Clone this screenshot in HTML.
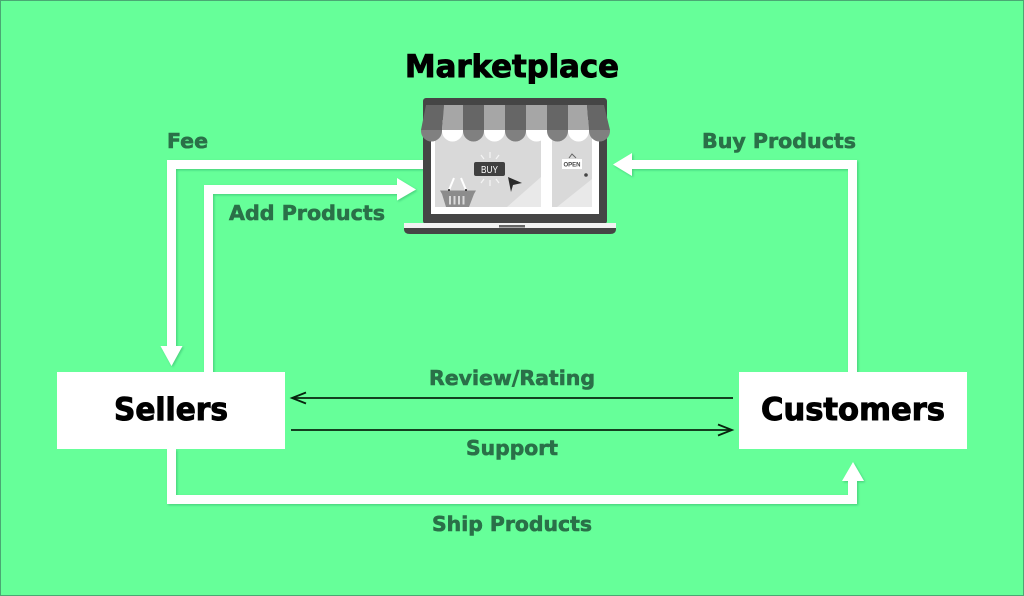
<!DOCTYPE html>
<html>
<head>
<meta charset="utf-8">
<style>
html,body{margin:0;padding:0;background:#66ff99;}
svg{display:block;}
text{font-family:"DejaVu Sans","Liberation Sans",sans-serif;font-weight:700;}
.t{font-size:31px;fill:#000;stroke:#000;stroke-width:1;}
.l{font-size:20px;fill:#2a7048;stroke:#2a7048;stroke-width:.6;}
</style>
</head>
<body>
<svg width="1024" height="596" viewBox="0 0 1024 596" xmlns="http://www.w3.org/2000/svg">
<defs>
<filter id="s" x="-10%" y="-10%" width="120%" height="120%">
<feDropShadow dx="1.200" dy="1.200" stdDeviation="1" flood-color="#1f8a4d" flood-opacity="0.4"/>
</filter>
<filter id="b" x="-5%" y="-5%" width="110%" height="110%"><feGaussianBlur stdDeviation="0.3"/></filter>
</defs>
<rect width="1024" height="596" fill="#66ff99"/>
<rect x="0.5" y="0.5" width="1023" height="595" fill="none" stroke="#4aa873" stroke-width="1"/>

<!-- thick connectors -->
<g fill="#fff" filter="url(#s)">
<path d="M424 160V169H176V346H182.500L171.500 366L160.500 346H167V160Z"/>
<path d="M204 373V185H397V178L416 189.500L397 200.500V194H213V373Z"/>
<path d="M857 373V160H632V153L613 164.500L632 176V169H848V373Z"/>
<path d="M167 449V504H857V481H864L853 462L842 481H848V495H176V449Z"/>
</g>

<!-- boxes -->
<rect x="57" y="372" width="228" height="77" fill="#fff"/>
<rect x="739" y="372" width="228" height="77" fill="#fff"/>
<text class="t" x="114" y="420" textLength="114" lengthAdjust="spacingAndGlyphs">Sellers</text>
<text class="t" x="761" y="420" textLength="184" lengthAdjust="spacingAndGlyphs">Customers</text>
<text class="t" x="405" y="77" textLength="214" lengthAdjust="spacingAndGlyphs">Marketplace</text>

<!-- thin arrows -->
<g fill="none" stroke="#08240f" stroke-width="1.800">
<path d="M733 398H292"/>
<path d="M306 392.500L292 398L306 403.500"/>
<path d="M291 430H732"/>
<path d="M718 424.500L732 430L718 435.500"/>
</g>

<!-- labels -->
<text class="l" x="167" y="148" textLength="41" lengthAdjust="spacingAndGlyphs">Fee</text>
<text class="l" x="229" y="220" textLength="156" lengthAdjust="spacingAndGlyphs">Add Products</text>
<text class="l" x="702" y="148" textLength="154" lengthAdjust="spacingAndGlyphs">Buy Products</text>
<text class="l" x="429" y="385" textLength="166" lengthAdjust="spacingAndGlyphs">Review/Rating</text>
<text class="l" x="466" y="455" textLength="92" lengthAdjust="spacingAndGlyphs">Support</text>
<text class="l" x="432" y="531" textLength="160" lengthAdjust="spacingAndGlyphs">Ship Products</text>

<!-- laptop -->
<g filter="url(#b)">
<rect x="423" y="98" width="184" height="126" rx="3" fill="#444"/>
<rect x="431" y="120" width="168" height="94" fill="#fff"/>
<rect x="435" y="125" width="106" height="82" fill="#d9d9d9"/>
<rect x="552" y="125" width="40" height="82" fill="#d9d9d9"/>
<path d="M507 207L541 177V207Z" fill="#e9e9e9"/>
<path d="M557 207L592 179V207Z" fill="#e9e9e9"/>

<!-- base -->
<path d="M404 223H616V228H404Z" fill="#f2f2f2"/>
<path d="M404 228H616V229Q616 234 610 234H410Q404 234 404 229Z" fill="#444"/>
<rect x="499" y="225" width="26" height="2.500" fill="#666"/>

<!-- awning -->
<path d="M426 105H444L442 130H421Z" fill="#666"/>
<path d="M444 105H463L463 130H442Z" fill="#a6a6a6"/>
<path d="M463 105H484L484 130H463Z" fill="#666"/>
<path d="M484 105H505L505 130H484Z" fill="#a6a6a6"/>
<path d="M505 105H526L526 130H505Z" fill="#666"/>
<path d="M526 105H547L547 130H526Z" fill="#a6a6a6"/>
<path d="M547 105H568L568 130H547Z" fill="#666"/>
<path d="M568 105H587L589 130H568Z" fill="#a6a6a6"/>
<path d="M587 105H604L610 130H589Z" fill="#666"/>
<g>
<path d="M421 130H442V131A10.500 10.500 0 0 1 421 131Z" fill="#808080"/>
<path d="M442 130H463V131A10.500 10.500 0 0 1 442 131Z" fill="#fff"/>
<path d="M463 130H484V131A10.500 10.500 0 0 1 463 131Z" fill="#808080"/>
<path d="M484 130H505V131A10.500 10.500 0 0 1 484 131Z" fill="#fff"/>
<path d="M505 130H526V131A10.500 10.500 0 0 1 505 131Z" fill="#808080"/>
<path d="M526 130H547V131A10.500 10.500 0 0 1 526 131Z" fill="#fff"/>
<path d="M547 130H568V131A10.500 10.500 0 0 1 547 131Z" fill="#808080"/>
<path d="M568 130H589V131A10.500 10.500 0 0 1 568 131Z" fill="#fff"/>
<path d="M589 130H610V131A10.500 10.500 0 0 1 589 131Z" fill="#808080"/>
</g>

<!-- BUY -->
<g stroke="#f5f5f5" stroke-width="1.200" fill="none">
<path d="M490 152V158M481 155L484 159M499 155L496 159M481 183L484 179M490 180V186M499 183L496 179"/>
</g>
<rect x="474" y="162" width="31" height="14" rx="2" fill="#404040"/>
<text x="489.500" y="173" font-size="10" text-anchor="middle" textLength="17" lengthAdjust="spacingAndGlyphs" style="font-family:'Liberation Sans',sans-serif;font-weight:400" fill="#fff">BUY</text>
<path d="M508 177L522 183L513 185L511 192Z" fill="#2b2b2b"/>

<!-- basket -->
<path d="M449 190L454 178M466 190L461 178" stroke="#fff" stroke-width="2" fill="none"/>
<path d="M440 190.500H476L474 194L469 207H446L442 194Z" fill="#8c8c8c"/>
<g fill="#d9d9d9">
<rect x="449" y="196" width="2" height="8.500"/>
<rect x="453.500" y="196" width="2" height="8.500"/>
<rect x="458" y="196" width="2" height="8.500"/>
<rect x="462.500" y="196" width="2" height="8.500"/>
</g>
<circle cx="449" cy="190" r="1" fill="#222"/>
<circle cx="466" cy="190" r="1" fill="#222"/>

<!-- OPEN sign -->
<path d="M569 158L572 154L576 158" stroke="#666" stroke-width="1" fill="none"/>
<rect x="562" y="159" width="20" height="10" fill="#fff"/>
<text x="572" y="166.500" font-size="6" text-anchor="middle" style="font-family:'Liberation Sans',sans-serif;font-weight:700" fill="#444">OPEN</text>
<circle cx="586" cy="175" r="1.800" fill="#444"/>
</g>
</svg>
</body>
</html>
